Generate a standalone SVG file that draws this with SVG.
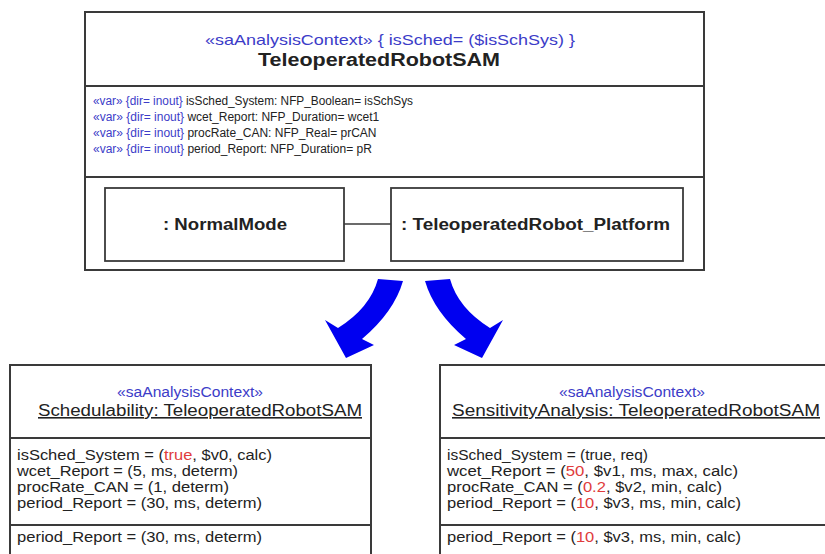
<svg xmlns="http://www.w3.org/2000/svg" width="825" height="554" viewBox="0 0 825 554">
<style>
  .box { fill: #ffffff; stroke: #3a3a3a; stroke-width: 2; }
  .ibox { fill: #ffffff; stroke: #3a3a3a; stroke-width: 1.8; }
  .div { stroke: #3a3a3a; stroke-width: 2; }
  .t { font-family: "Liberation Sans", Arial, sans-serif; fill: #222; }
  .st { fill: #3c3cc8; }
  .red { fill: #e03c3c; }
  .b { font-weight: bold; }
  .arrow { fill: #0000f0; }
</style>
<rect width="825" height="554" fill="#ffffff"/>

<g id="teleoperatedRobotSAM">
  <rect class="box" x="85" y="12" width="619" height="258"/>
  <line class="div" x1="85" y1="86" x2="704" y2="86"/>
  <line class="div" x1="85" y1="177" x2="704" y2="177"/>
  <text class="t st" x="205" y="45" font-size="15" textLength="370" lengthAdjust="spacingAndGlyphs">«saAnalysisContext» { isSched= ($isSchSys) }</text>
  <text class="t b" x="258" y="66" font-size="18" textLength="242" lengthAdjust="spacingAndGlyphs">TeleoperatedRobotSAM</text>
  <g class="t" font-size="12">
    <text x="93" y="105" textLength="320" lengthAdjust="spacingAndGlyphs"><tspan class="st">«var» {dir= inout}</tspan> isSched_System: NFP_Boolean= isSchSys</text>
    <text x="93" y="121"><tspan class="st">«var» {dir= inout}</tspan> wcet_Report: NFP_Duration= wcet1</text>
    <text x="93" y="137"><tspan class="st">«var» {dir= inout}</tspan> procRate_CAN: NFP_Real= prCAN</text>
    <text x="93" y="153"><tspan class="st">«var» {dir= inout}</tspan> period_Report: NFP_Duration= pR</text>
  </g>
</g>

<g id="normalMode">
  <rect class="ibox" x="105" y="188" width="239" height="73"/>
  <text class="t b" x="163" y="230" font-size="16" textLength="124" lengthAdjust="spacingAndGlyphs">: NormalMode</text>
</g>

<g id="platform">
  <rect class="ibox" x="391" y="188" width="292" height="73"/>
  <text class="t b" x="401" y="230" font-size="16" textLength="269" lengthAdjust="spacingAndGlyphs">: TeleoperatedRobot_Platform</text>
</g>

<g id="schedulability">
  <rect class="box" x="10" y="365" width="361" height="200"/>
  <line class="div" x1="10" y1="438" x2="371" y2="438"/>
  <line class="div" x1="10" y1="525" x2="371" y2="525"/>
  <text class="t st" x="117" y="397" font-size="15.5" textLength="146" lengthAdjust="spacingAndGlyphs">«saAnalysisContext»</text>
  <text class="t" x="38" y="416" font-size="16" textLength="324" lengthAdjust="spacingAndGlyphs" text-decoration="underline">Schedulability: TeleoperatedRobotSAM</text>
  <g class="t" font-size="14">
    <text x="17" y="460" textLength="255" lengthAdjust="spacingAndGlyphs">isSched_System = (<tspan class="red">true</tspan>, $v0, calc)</text>
    <text x="17" y="476" textLength="221" lengthAdjust="spacingAndGlyphs">wcet_Report = (5, ms, determ)</text>
    <text x="17" y="492" textLength="212" lengthAdjust="spacingAndGlyphs">procRate_CAN = (1, determ)</text>
    <text x="17" y="508" textLength="245" lengthAdjust="spacingAndGlyphs">period_Report = (30, ms, determ)</text>
    <text x="17" y="542" textLength="245" lengthAdjust="spacingAndGlyphs">period_Report = (30, ms, determ)</text>
  </g>
</g>

<g id="sensitivityAnalysis">
  <rect class="box" x="440" y="365" width="400" height="200"/>
  <line class="div" x1="440" y1="438" x2="825" y2="438"/>
  <line class="div" x1="440" y1="525" x2="825" y2="525"/>
  <text class="t st" x="559" y="397" font-size="15.5" textLength="146" lengthAdjust="spacingAndGlyphs">«saAnalysisContext»</text>
  <text class="t" x="452" y="416" font-size="16" textLength="368" lengthAdjust="spacingAndGlyphs" text-decoration="underline">SensitivityAnalysis: TeleoperatedRobotSAM</text>
  <g class="t" font-size="14">
    <text x="447" y="460" textLength="201" lengthAdjust="spacingAndGlyphs">isSched_System = (true, req)</text>
    <text x="447" y="476" textLength="291" lengthAdjust="spacingAndGlyphs">wcet_Report = (<tspan class="red">50</tspan>, $v1, ms, max, calc)</text>
    <text x="447" y="492" textLength="275" lengthAdjust="spacingAndGlyphs">procRate_CAN = (<tspan class="red">0.2</tspan>, $v2, min, calc)</text>
    <text x="447" y="508" textLength="294" lengthAdjust="spacingAndGlyphs">period_Report = (<tspan class="red">10</tspan>, $v3, ms, min, calc)</text>
    <text x="447" y="542" textLength="294" lengthAdjust="spacingAndGlyphs">period_Report = (<tspan class="red">10</tspan>, $v3, ms, min, calc)</text>
  </g>
</g>

<g id="connectors">
  <line x1="344" y1="224" x2="391" y2="224" stroke="#3a3a3a" stroke-width="1.5"/>
  <path class="arrow" d="M378,279 Q370,308 338,328 L325,320 L346,358 L374,345 L362,339 Q394,312 403,281 Z"/>
  <path class="arrow" d="M450,279 Q458,308 490,328 L503,320 L482,358 L454,345 L466,339 Q434,312 425,281 Z"/>
</g>
</svg>
